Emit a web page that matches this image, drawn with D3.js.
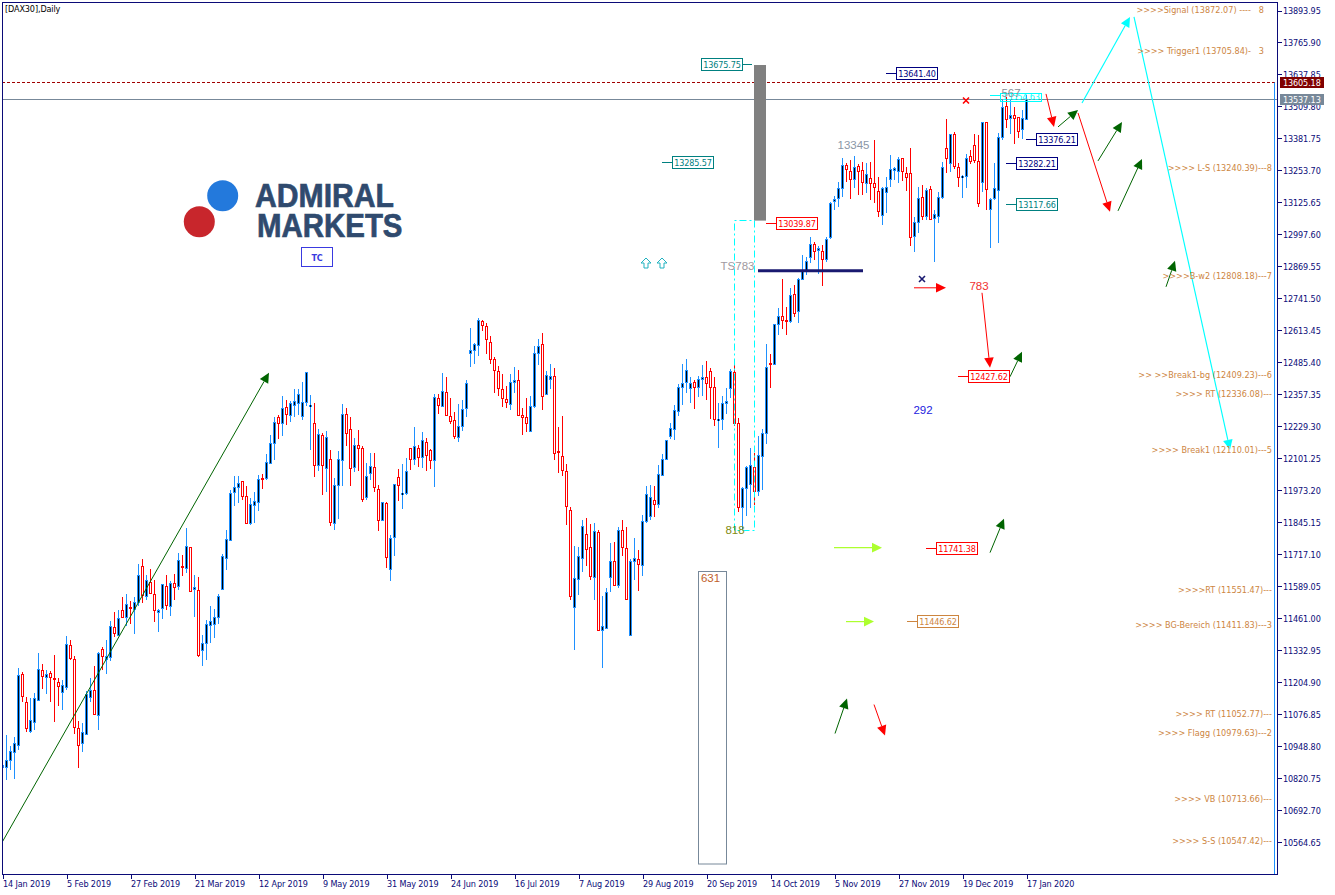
<!DOCTYPE html>
<html><head><meta charset="utf-8">
<script src="https://cdn.jsdelivr.net/npm/d3@7/dist/d3.min.js"></script>
<style>
html,body{margin:0;padding:0;background:#fff;overflow:hidden}
svg{display:block}
text{font-family:"DejaVu Sans Condensed","DejaVu Sans",sans-serif;font-stretch:condensed;font-size:9px;letter-spacing:-.12px}
</style></head><body>
<svg id="c" width="1335" height="895"></svg>
<script>
const highs=[
10876,10996,10949,10985,11261,11248,11148,11141,11164,11324,
11280,11253,11252,11316,11223,11216,11392,11376,11312,11052,
11044,11169,11224,11272,11325,11347,11376,11452,11488,11496,
11548,11560,11529,11547,11680,11700,11636,11660,11616,11497,
11599,11636,11611,11640,11723,11716,11824,11747,11636,11627,
11396,11453,11509,11499,11559,11720,11816,11976,12032,12029,
12011,11992,11943,11968,12033,12040,12120,12196,12267,12276,
12352,12336,12329,12380,12380,12408,12448,12356,12324,12220,
12203,12212,12136,12024,12132,12320,12304,12268,12184,12216,
12149,12084,12124,12124,11995,11927,11928,11796,11999,12060,
12080,12101,12143,12228,12155,12208,12184,12140,12360,12360,
12443,12427,12344,12288,12320,12336,12416,12624,12565,12663,
12656,12643,12592,12508,12472,12440,12392,12440,12468,12456,
12304,12344,12352,12552,12581,12604,12452,12480,12463,12228,
12272,12080,11907,11752,11748,11856,11864,11840,11844,11816,
11552,11583,11764,11768,11827,11856,11828,11699,11784,11736,
11876,11992,11996,11992,12076,12120,12176,12243,12316,12400,
12480,12500,12427,12416,12433,12477,12491,12463,12427,12323,
12349,12383,12460,12499,12263,11987,12069,12144,12123,12189,
12220,12560,12520,12640,12704,12820,12707,12785,12796,12823,
12916,12907,12987,12969,12952,12956,12987,13129,13152,13209,
13303,13283,13296,13312,13279,13288,13283,13289,13376,13227,
13189,13229,13316,13269,13307,13303,13269,13343,13069,13189,
13196,13185,13192,13096,13169,13289,13460,13400,13409,13283,
13236,13319,13336,13400,13396,13449,13449,13143,13283,13403,
13536,13549,13536,13509,13467,13496,13556];
const lows=[
10865,10813,10856,10820,10936,11125,11005,11001,11016,11129,
11180,11160,11128,11048,11112,11096,11176,11296,11000,10864,
10925,10995,11125,11076,11016,11256,11240,11291,11388,11392,
11464,11432,11440,11400,11509,11523,11536,11560,11448,11405,
11459,11496,11472,11536,11573,11632,11643,11568,11467,11305,
11269,11296,11363,11384,11440,11576,11656,11769,11909,11923,
11936,11843,11836,11843,11889,11980,12016,12080,12096,12180,
12189,12236,12245,12267,12276,12256,12309,12133,12025,12049,
11956,11965,11832,11813,11860,11989,12149,11992,12048,12052,
11925,11936,12016,11965,11809,11853,11661,11609,11709,11929,
11897,11953,12053,12073,12067,12061,12049,12057,11985,12280,
12309,12269,12240,12180,12165,12209,12265,12469,12480,12513,
12613,12521,12481,12361,12352,12305,12304,12293,12364,12272,
12193,12208,12209,12304,12476,12296,12353,12380,12096,12044,
12032,11836,11536,11336,11556,11648,11672,11613,11536,11415,
11264,11421,11568,11589,11584,11712,11533,11395,11613,11572,
11629,11843,11856,11865,11903,12029,12099,12179,12176,12272,
12316,12363,12323,12300,12347,12349,12336,12260,12229,12141,
12216,12279,12343,12229,11885,11816,11869,11903,11916,11949,
11976,12160,12384,12476,12596,12620,12596,12643,12669,12643,
12816,12836,12885,12896,12840,12792,12889,12979,13096,13109,
13149,13209,13139,13183,13156,13156,13163,13136,13123,13069,
13036,13083,13189,13216,13203,13213,13173,12953,12927,13003,
13056,13056,13055,12887,13043,13141,13245,13249,13259,13187,
13143,13183,13280,13283,13109,13169,13096,12945,13136,12965,
13376,13423,13400,13360,13383,13380,13456];
const opens=[
10865,10867,10893,10927,10955,11240,11127,11011,11047,11133,
11255,11227,11243,11223,11207,11165,11187,11355,11299,11023,
10963,11000,11145,11175,11075,11339,11299,11307,11427,11396,
11495,11465,11508,11497,11525,11671,11551,11608,11559,11487,
11501,11592,11509,11603,11589,11671,11663,11747,11579,11575,
11333,11363,11435,11437,11465,11580,11701,11776,11965,11985,
12011,11951,11843,11915,11927,12024,12021,12083,12163,12267,
12243,12307,12275,12313,12323,12269,12327,12309,12243,12075,
12195,12063,12099,11844,11995,12095,12279,12219,12067,12156,
12143,11945,12043,12067,11979,11855,11923,11659,11787,12027,
11959,11963,12143,12099,12143,12107,12167,12135,12095,12343,
12311,12367,12271,12255,12187,12231,12303,12523,12537,12555,
12651,12631,12567,12499,12451,12379,12339,12319,12407,12415,
12275,12267,12211,12309,12523,12559,12357,12421,12431,12131,
12111,12051,11895,11507,11619,11703,11799,11747,11627,11807,
11415,11423,11627,11691,11593,11815,11743,11395,11689,11699,
11676,11852,11869,11936,11919,12036,12099,12189,12219,12291,
12389,12408,12381,12407,12387,12419,12427,12451,12387,12253,
12259,12321,12381,12447,12243,11907,11981,11999,12067,11969,
12109,12203,12483,12479,12641,12671,12656,12653,12759,12691,
12819,12853,12909,12959,12937,12933,12899,12987,13131,13143,
13183,13275,13253,13219,13272,13256,13203,13224,13203,13171,
13076,13169,13219,13255,13253,13303,13245,13243,12991,13049,
13147,13073,13180,13065,13072,13147,13343,13283,13400,13269,
13229,13232,13312,13355,13292,13207,13447,13099,13143,13176,
13389,13512,13465,13476,13467,13419,13461];
const closes=[
10876,10893,10931,10963,11235,11149,11021,11053,11143,11259,
11229,11239,11227,11217,11189,11195,11359,11301,11027,10955,
11007,11159,11175,11080,11323,11309,11309,11431,11401,11463,
11465,11519,11505,11527,11635,11553,11615,11563,11493,11496,
11599,11516,11603,11585,11695,11667,11749,11572,11587,11316,
11363,11437,11451,11467,11551,11711,11779,11963,11987,12003,
11949,11843,11919,11931,12019,12020,12087,12163,12247,12241,
12303,12277,12323,12331,12359,12327,12447,12315,12075,12197,
12075,12187,11847,11995,12099,12279,12203,12063,12155,12143,
11939,12031,12071,11987,11855,11927,11707,11783,11999,11995,
11963,12051,12099,12151,12107,12175,12115,12095,12347,12315,
12369,12273,12251,12189,12231,12299,12403,12537,12559,12655,
12637,12579,12499,12455,12383,12343,12327,12407,12415,12276,
12267,12241,12309,12523,12553,12349,12435,12432,12123,12125,
12053,11909,11551,11621,11711,11829,11739,11629,11809,11415,
11429,11565,11691,11593,11815,11745,11537,11691,11703,11679,
11849,11959,11947,11920,12039,12099,12176,12223,12295,12387,
12403,12455,12403,12387,12419,12429,12405,12387,12259,12259,
12323,12331,12451,12243,11907,11983,12067,12075,11969,12113,
12203,12467,12479,12639,12671,12657,12653,12755,12683,12819,
12853,12893,12959,12933,12943,12899,12979,13125,13141,13183,
13275,13261,13219,13267,13253,13207,13240,13205,13189,13093,
13185,13187,13259,13264,13300,13253,13229,12987,13049,13145,
13073,13175,13060,13081,13147,13267,13305,13400,13272,13227,
13232,13303,13293,13296,13123,13447,13180,13141,13183,13387,
13507,13459,13476,13465,13413,13463,13540];

const priceTicks=[13893.95,13765.90,13637.85,13509.80,13381.75,13253.70,13125.65,12997.60,12869.55,12741.50,12613.45,12485.40,12357.35,12229.30,12101.25,11973.20,11845.15,11717.10,11589.05,11461.00,11332.95,11204.90,11076.85,10948.80,10820.75,10692.70,10564.65];
const dateLabels=["14 Jan 2019","5 Feb 2019","27 Feb 2019","21 Mar 2019","12 Apr 2019","9 May 2019","31 May 2019","24 Jun 2019","16 Jul 2019","7 Aug 2019","29 Aug 2019","20 Sep 2019","14 Oct 2019","5 Nov 2019","27 Nov 2019","19 Dec 2019","17 Jan 2020"];

const levelNames=[">>>>Signal (13872.07) ----   8",">>>> Trigger1 (13705.84)-   3",">>>> L-S (13240.39)---8",">>>>B-w2 (12808.18)---7",">> >>Break1-bg (12409.23)---6",">>>> RT (12336.08)---",">>>> Break1 (12110.01)---5",">>>>RT (11551.47)---",">>>> BG-Bereich (11411.83)---3",">>>> RT (11052.77)---",">>>> Flagg (10979.63)---2",">>>> VB (10713.66)---",">>>> S-S (10547.42)---"];
const levelPrices=[13872.07,13705.84,13240.39,12808.18,12409.23,12336.08,12110.01,11551.47,11411.83,11052.77,10979.63,10713.66,10547.42];

const boxValues=[13675.75,13285.57,13641.40,13039.87,13376.21,13282.21,13117.66,12427.62,11741.38,11446.62];
const boxBars=[174.75,167.5,223.5,193.5,258.5,253.5,253.5,241.5,233.5,228.75];
const boxColors=["#008080","#008080","#000080","#f00","#000080","#000080","#008080","#f00","#f00","#cd853f"];

const greenArrows=[[0,10564,66.75,12444],[264,13428,269,13496],[274,13292,280,13448],[279,13092,285,13300],[291,12788,293.25,12892],[252,12428,255,12528],[247,11724,250.5,11860],[208.25,11000,211.25,11140]];
const redArrows=[[261,13560,263,13428],[269,13484,277,13088],[228,12784,236,12784],[245,12764,247,12464],[218,11116,220.75,10992]];
const limeArrows=[[208,11744,220,11744],[211,11448,218,11448]];
const cyanArrows=[[270,13524,282,13868],[283,13868,307,12136]];
const resistance=13605.18, lastPrice=13537.13, cyanLevel=13554.63, baseLevel=12852, fibLow=11816, barTop=13675.75, barBottom=13053;

const svg=d3.select("#c");
const x=d3.scaleLinear().domain([0,1]).range([2,6]);
const y=d3.scaleLinear().domain([10564.65,13893.95]).range([842.3,10.5]);
const navy="#0b0b78", blue="#1e90ff", peru="#cd853f";
svg.append("defs").append("clipPath").attr("id","plot").append("rect").attr("x",3).attr("y",3).attr("width",1274).attr("height",871);

// logo
const logo=svg.append("g");
logo.append("circle").attr("cx",222.7).attr("cy",195.7).attr("r",15.5).attr("fill","#2379dc");
logo.append("circle").attr("cx",199.3).attr("cy",221.7).attr("r",15.5).attr("fill","#c8262c");
[["ADMIRAL",255,207,139],["MARKETS",257,236.5,145.5]].forEach(d=>logo.append("text").text(d[0]).attr("x",d[1]).attr("y",d[2]).attr("textLength",d[3]).attr("lengthAdjust","spacingAndGlyphs").style("font-family","'Liberation Sans'").style("font-stretch","normal").style("font-size","34px").style("letter-spacing","0").style("font-weight","700").attr("fill","#2f4a6e").attr("stroke","#2f4a6e").attr("stroke-width",.7));
const tc=svg.append("g");
tc.append("rect").attr("x",301.5).attr("y",247.5).attr("width",31).attr("height",19).attr("fill","#fff").attr("stroke","#3a3ae0");
tc.append("text").text("TC").attr("x",317).attr("y",261).attr("text-anchor","middle").attr("fill","#3a3ae0").style("font-weight","700");

const plot=svg.append("g").attr("clip-path","url(#plot)");
// candles
const idx=d3.range(closes.length);
plot.append("g").attr("shape-rendering","crispEdges").selectAll("g").data(idx).join("g").each(function(i){
  const g=d3.select(this), up=closes[i]>=opens[i], col=up?blue:"#f00";
  const cx=Math.round(x(i));
  const hy=Math.round(y(highs[i])), ly=Math.round(y(lows[i]));
  const ty=Math.round(y(Math.max(opens[i],closes[i]))), by=Math.round(y(Math.min(opens[i],closes[i])));
  g.append("rect").attr("x",cx).attr("y",hy).attr("width",1).attr("height",Math.max(1,ly-hy)).attr("fill",col);
  g.append("rect").attr("x",cx-1).attr("y",ty).attr("width",3).attr("height",Math.max(2,by-ty+1)).attr("fill",col);
  if(by-ty>1) g.append("rect").attr("x",cx).attr("y",ty+1).attr("width",1).attr("height",by-ty-1).attr("fill",up?"#000":"#fff");
  else if(up) g.append("rect").attr("x",cx).attr("y",ty).attr("width",1).attr("height",2).attr("fill","#000");
});

// horizontal levels
const ry=Math.floor(y(resistance))+.5, ly=Math.floor(y(lastPrice))+.5;
plot.append("line").attr("x1",2).attr("x2",1277).attr("y1",ry).attr("y2",ry).attr("stroke","#a00000").attr("stroke-dasharray","3 2");
plot.append("line").attr("x1",2).attr("x2",1277).attr("y1",ly).attr("y2",ly).attr("stroke","#778899");
plot.append("line").attr("x1",1274.5).attr("x2",1274.5).attr("y1",ry).attr("y2",874).attr("stroke",blue);

// grey bar, fib box, base line
plot.append("rect").attr("x",x(188)).attr("width",12).attr("y",y(barTop)).attr("height",y(barBottom)-y(barTop)).attr("fill","#808080");
const fy0=Math.round(y(fibLow))+.5, fy1=Math.round(y(barBottom))-.5;
plot.append("path").attr("d",`M${x(183)+.5},${fy0}V${fy1}H${x(188)+.5}V${fy0}H${x(183)+.5}`).attr("fill","none").attr("stroke","#00ffff").attr("stroke-dasharray","7 3 2 3");
plot.append("line").attr("x1",x(189)).attr("x2",x(215.25)).attr("y1",y(baseLevel)).attr("y2",y(baseLevel)).attr("stroke","#191970").attr("stroke-width",3);

// 631 box
plot.append("rect").attr("x",698.5).attr("y",571.5).attr("width",28).attr("height",292.5).attr("fill","none").attr("stroke","#778899");

// arrows
function arrow(d,color,w){
  const x0=x(d[0]),y0=y(d[1]),x1=x(d[2]),y1=y(d[3]);
  const a=Math.atan2(y1-y0,x1-x0), L=10, W=4.8;
  const bx=x1-L*Math.cos(a), by=y1-L*Math.sin(a), nx=-Math.sin(a), ny=Math.cos(a);
  const g=plot.append("g");
  g.append("line").attr("x1",x0).attr("y1",y0).attr("x2",bx).attr("y2",by).attr("stroke",color).attr("stroke-width",w);
  g.append("path").attr("d",`M${x1},${y1}L${bx+nx*W},${by+ny*W}L${bx-nx*W},${by-ny*W}Z`).attr("fill",color);
}
greenArrows.forEach(d=>arrow(d,"#006400",1));
redArrows.forEach(d=>arrow(d,"#f00",1));
limeArrows.forEach(d=>arrow(d,"#adff2f",1.2));
cyanArrows.forEach(d=>arrow(d,"#00ffff",1.15));

// hollow up arrows
[161,165].forEach(b=>{
  const cx=x(b), cy=263;
  plot.append("path").attr("d",`M${cx},${cy-5}L${cx+5},${cy}H${cx+2}V${cy+5}H${cx-2}V${cy}H${cx-5}Z`).attr("fill","#fff").attr("stroke","#20b2c0");
});

// x marks
[[241,"#f00",100.5],[230,"#191970",279]].forEach(d=>{
  const cx=x(d[0]), cy=d[2];
  plot.append("path").attr("d",`M${cx-3},${cy-3}L${cx+3},${cy+3}M${cx+3},${cy-3}L${cx-3},${cy+3}`).attr("stroke",d[1]).attr("stroke-width",1.6);
});

// level labels
svg.append("g").selectAll("text").data(levelNames).join("text").text(d=>d)
 .attr("xml:space","preserve").style("white-space","pre").style("letter-spacing","0.03px")
 .attr("x",(d,i)=>i<2?1264:1272).attr("y",(d,i)=>y(levelPrices[i])-3).attr("text-anchor","end").attr("fill",peru);

// boxed price labels
boxValues.forEach((v,i)=>{
  const bx=Math.round(x(boxBars[i])), by=Math.round(y(v)-0.6), g=svg.append("g"), c=boxColors[i];
  const left=i!==0;
  g.append("line").attr("x1",left?bx-10:bx+41).attr("x2",left?bx:bx+51).attr("y1",by+.5).attr("y2",by+.5).attr("stroke",c);
  g.append("rect").attr("x",bx+.5).attr("y",by-5.5).attr("width",41).attr("height",12).attr("fill","#fff").attr("stroke",c);
  g.append("text").text(v.toFixed(2)).attr("x",bx+21).attr("y",by+4).attr("text-anchor","middle").attr("fill",c);
});

// cyan label at the top
{
  const cy=Math.floor(y(cyanLevel));
  svg.append("line").attr("x1",990).attr("x2",1000).attr("y1",cy+.5).attr("y2",cy+.5).attr("stroke","#00ffff");
  svg.append("rect").attr("x",1000.5).attr("y",cy-1.5).attr("width",41).attr("height",8).attr("fill","none").attr("stroke","#00ffff");
  svg.append("text").text(cyanLevel.toFixed(2)).attr("x",1021).attr("y",cy+5).attr("text-anchor","middle").attr("fill","#00ffff");
}

// free text
const free=[["13345",853.5,149,"#8a96a6"],["567",1011,97,"#8a8f98"],["TS783",737.5,270,"#a09aa0"],["818",735,534,"#7f8a10"],["631",710.5,582,"#c0602a"],["783",979,290,"#f03030"],["292",923,414,"#2222e0"]];
free.forEach(d=>svg.append("text").text(d[0]).attr("x",d[1]).attr("y",d[2]).attr("text-anchor","middle").attr("fill",d[3]).style("font-family","'Liberation Sans'").style("font-stretch","normal").style("font-size","11.5px").style("letter-spacing","0"));

svg.append("text").text("[DAX30],Daily").attr("x",5).attr("y",12).attr("fill","#000");

// frame and axes
svg.append("rect").attr("x",2.5).attr("y",2.5).attr("width",1275).attr("height",872).attr("fill","none").attr("stroke",navy);
const ay=svg.append("g").attr("transform","translate(1277.5,0)").call(d3.axisRight(y).tickValues(priceTicks).tickSize(4).tickPadding(1.5).tickFormat(d3.format(".2f")));
ay.select(".domain").remove();
ay.selectAll("line").attr("stroke",navy).attr("shape-rendering","crispEdges");
ay.selectAll("text").attr("fill",navy);
const tickBars=dateLabels.map((d,i)=>i*16);
const ax=svg.append("g").attr("transform","translate(0.5,874.5)").call(d3.axisBottom(x).tickValues(tickBars).tickSize(4).tickPadding(2).tickFormat((d,i)=>dateLabels[i]));
ax.select(".domain").remove();
ax.selectAll("line").attr("stroke",navy).attr("shape-rendering","crispEdges");
ax.selectAll("text").attr("fill",navy).attr("text-anchor","start");
ax.attr("font-family",null).attr("font-size",null); ay.attr("font-family",null).attr("font-size",null);

// current price tags
[[resistance,"#800000"],[lastPrice,"#778899"]].forEach(d=>{
  const py=Math.floor(y(d[0]));
  svg.append("rect").attr("x",1280).attr("y",py-5).attr("width",44).attr("height",11).attr("fill",d[1]);
  svg.append("text").text(d[0].toFixed(2)).attr("x",1283).attr("y",py+4).attr("fill","#fff");
});
</script></body></html>
